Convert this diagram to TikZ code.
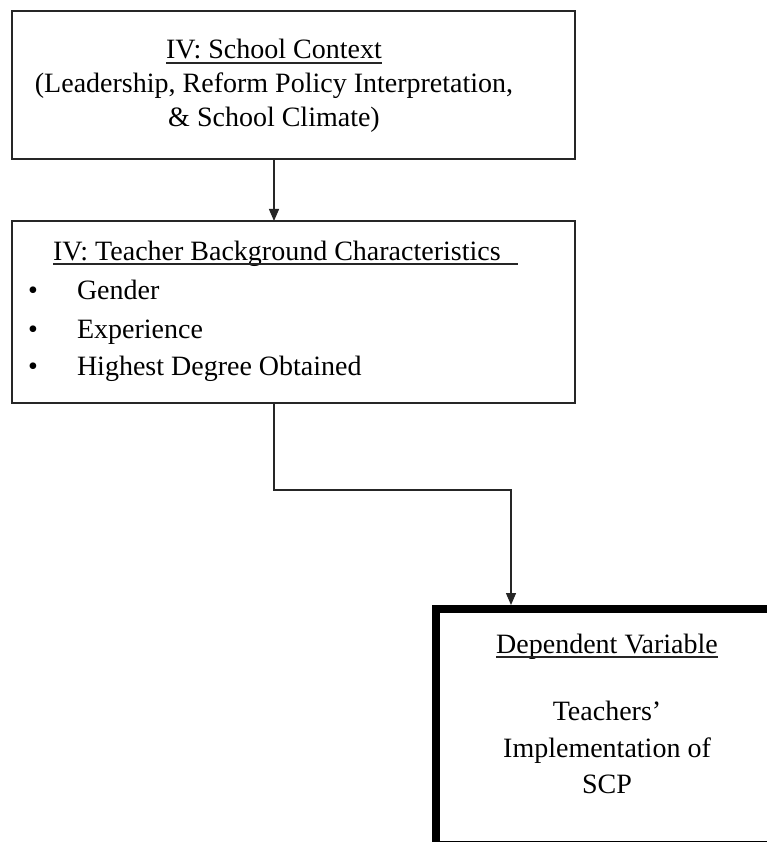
\documentclass[tikz,border=0pt]{standalone}
\usepackage{fontspec}
\setmainfont{Liberation Serif}
\usetikzlibrary{arrows.meta}
\tikzset{
  box/.style={draw=black!85, line width=1.3pt, outer sep=0pt, inner sep=0pt, anchor=north west},
  thickbox/.style={draw=black, line width=8pt, outer sep=0pt, inner sep=0pt, anchor=north west},
  txt/.style={inner sep=0pt, outer sep=0pt, anchor=base, font=\fontsize{28}{34}\selectfont},
  ltxt/.style={txt, anchor=base west},
  arr/.style={draw=black!85, line width=1.3pt, -{Triangle[length=12pt,width=10pt]}},
  uline/.style={draw=black!85, line width=1.1pt}
}
\begin{document}
\begin{tikzpicture}[x=1pt,y=-1pt]
\clip (0,0) rectangle (767,842);
\fill[white] (0,0) rectangle (767,842);
% boxes
\node[box, minimum width=563pt, minimum height=148pt] (b1) at (12,11) {};
\node[box, minimum width=563pt, minimum height=182pt] (b2) at (12,221) {};
\node[thickbox, minimum width=340pt, minimum height=236pt] (b3) at (436,609) {};
% box 1 text
\node[txt] (t1) at (274,59) {IV: School Context};
\node[txt] (t2) at (274,93) {(Leadership, Reform Policy Interpretation,};
\node[txt] (t3) at (274,127) {\& School Climate)};
\draw[uline] ([yshift=-4pt]t1.base west) -- ([yshift=-4pt]t1.base east);
% box 2 text
\node[ltxt] (h2) at (53,260) {IV: Teacher Background Characteristics};
\draw[uline] ([yshift=-4pt]h2.base west) -- ([yshift=-4pt,xshift=17pt]h2.base east);
\node[txt] (d1) at (33,299) {•};
\node[txt] (d2) at (33,338) {•};
\node[txt] (d3) at (33,375) {•};
\node[ltxt] (i1) at (77,299) {Gender};
\node[ltxt] (i2) at (77,338) {Experience};
\node[ltxt] (i3) at (77,375) {Highest Degree Obtained};
% box 3 text
\node[txt] (h3) at (607,653) {Dependent Variable};
\draw[uline] ([yshift=-4pt]h3.base west) -- ([yshift=-4pt]h3.base east);
\node[txt] (s1) at (607,720) {Teachers’};
\node[txt] (s2) at (607,757) {Implementation of};
\node[txt] (s3) at (607,793) {SCP};
% connectors
\coordinate (bend) at (511,490);
\draw[arr] (b1.south -| t1) -- (b2.north -| t1);
\draw[arr, shorten >=4pt] (b2.south -| t1) |- (bend) -- (b3.north -| bend);
\end{tikzpicture}
\end{document}
